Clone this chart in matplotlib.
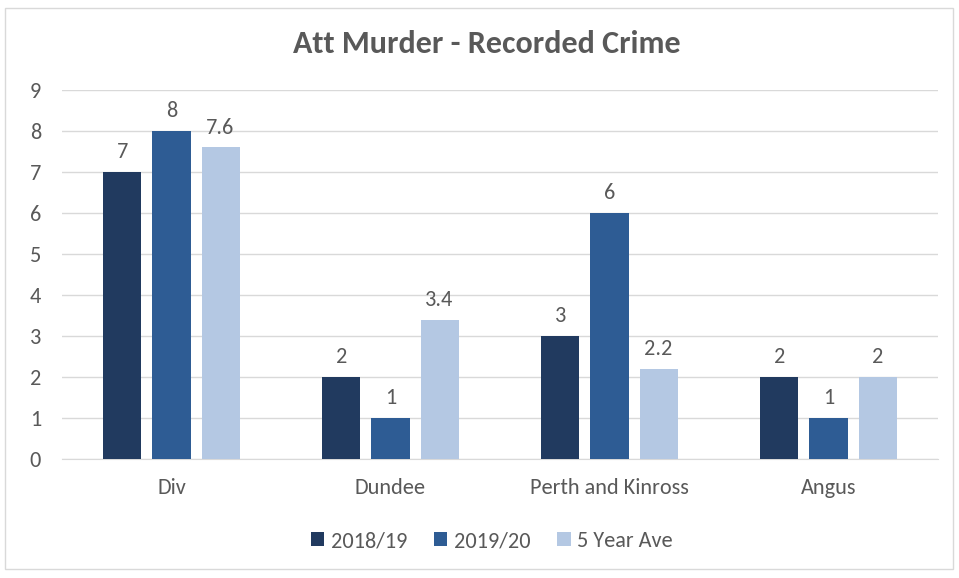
import matplotlib
matplotlib.use('Agg')
import matplotlib.pyplot as plt
import numpy as np
from matplotlib.patches import Rectangle

plt.rcParams['font.family'] = ['Carlito', 'Liberation Sans Narrow', 'Liberation Sans', 'DejaVu Sans']

# data
categories = ['Div', 'Dundee', 'Perth and Kinross', 'Angus']
series_names = ['2018/19', '2019/20', '5 Year Ave']
vals_1819 = [7, 2, 3, 2]
vals_1920 = [8, 1, 6, 1]
vals_5yr = [7.6, 3.4, 2.2, 2]
y_ticks = list(range(0, 10))

colors = ['#213a5f', '#2e5c94', '#b4c8e3']
text_col = '#595959'

W, H = 959, 578
fig = plt.figure(figsize=(W / 100, H / 100), dpi=100)
fig.patch.set_facecolor('white')

# light frame round the chart
fig.add_artist(Rectangle((5 / W, 1 - 569 / H), 948 / W, 561 / H, transform=fig.transFigure,
                         fill=False, edgecolor='#d9d9d9', linewidth=1))

# plot area: x 62..938, y 90 (=9) .. 459 (=0)
ax = fig.add_axes([62 / W, 1 - 459 / H, 876 / W, 369 / H])

x = np.arange(len(categories))
bw = 0.174
step = 0.224
for i, (vals, c) in enumerate(zip([vals_1819, vals_1920, vals_5yr], colors)):
    pos = x + (i - 1) * step
    bars = ax.bar(pos, vals, width=bw, color=c, label=series_names[i], zorder=3)
    for b, v in zip(bars, vals):
        lbl = ('%g' % v)
        ax.annotate(lbl, (b.get_x() + b.get_width() / 2, v), xytext=(0, 7),
                    textcoords='offset points', ha='center', va='bottom',
                    fontsize=16, color=text_col)

ax.set_xlim(-0.5, 3.5)
ax.set_ylim(0, 9)
ax.set_yticks(y_ticks)
ax.set_yticklabels([str(t) for t in y_ticks])
ax.set_xticks(x)
ax.set_xticklabels(categories)
ax.grid(axis='y', color='#d9d9d9', linewidth=1, zorder=0)
for s in ['top', 'right', 'left']:
    ax.spines[s].set_visible(False)
ax.spines['bottom'].set_color('#d9d9d9')
ax.tick_params(axis='both', length=0, labelsize=16, colors=text_col)
ax.tick_params(axis='y', pad=15)
ax.tick_params(axis='x', pad=14)

fig.text(487 / W, 1 - 44 / H, 'Att Murder - Recorded Crime', ha='center', va='center',
         fontsize=23, fontweight='bold', color=text_col)

leg = fig.legend(loc='center', bbox_to_anchor=(492 / W, 1 - 541 / H), ncol=3, frameon=False,
                 fontsize=16, handlelength=0.6, handleheight=0.6, handletextpad=0.3,
                 columnspacing=1.2)
for t in leg.get_texts():
    t.set_color(text_col)

fig.savefig('out.png', dpi=100)
